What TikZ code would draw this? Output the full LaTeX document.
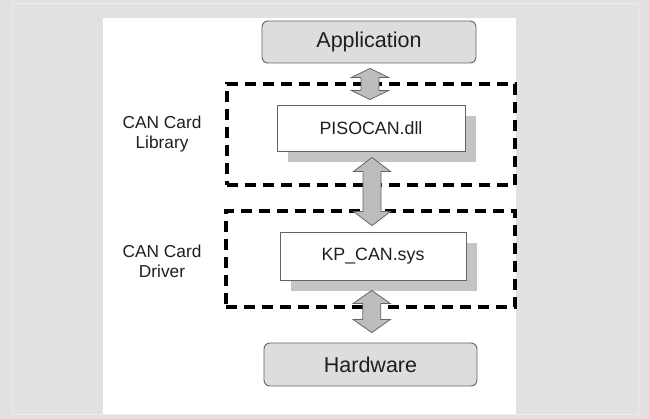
\documentclass[tikz,border=0pt]{standalone}
\usepackage{fontspec}
\setmainfont{Liberation Sans}
\usetikzlibrary{positioning}
\usetikzlibrary{calc}
\usetikzlibrary{shadows}
\definecolor{bggray}{RGB}{225,225,225}
\definecolor{rimgray}{RGB}{236,236,236}
\definecolor{boxgray}{RGB}{221,221,221}
\definecolor{shadowgray}{RGB}{196,196,196}
\definecolor{arrowgray}{RGB}{189,189,189}
\definecolor{edgegray}{RGB}{100,100,100}
\definecolor{textgray}{RGB}{30,30,30}
\newcommand{\fatarrow}[4]% top node, bottom node, gap, head length
{\draw[fatarr] let \p1=(#1.south), \p2=(#2.north), \n1={(\x1+\x2)/2} in
 (\n1,\y1-#3pt) -- (\n1+18.5pt,\y1-#3pt-#4pt) -- (\n1+9pt,\y1-#3pt-#4pt) --
 (\n1+9pt,\y2+#3pt+#4pt) -- (\n1+18.5pt,\y2+#3pt+#4pt) -- (\n1,\y2+#3pt) --
 (\n1-18.5pt,\y2+#3pt+#4pt) -- (\n1-9pt,\y2+#3pt+#4pt) --
 (\n1-9pt,\y1-#3pt-#4pt) -- (\n1-18.5pt,\y1-#3pt-#4pt) -- cycle;
}

\begin{document}
\begin{tikzpicture}[x=1pt,y=-1pt,text=textgray] % y runs downwards
\tikzstyle{layer}=[draw=edgegray,fill=boxgray,rounded corners=6pt,line width=.9pt,inner sep=0pt,font=\fontsize{21.5}{24}\selectfont]
\tikzstyle{module}=[draw=edgegray,fill=white,line width=.9pt,inner sep=0pt,font=\fontsize{17.8}{20}\selectfont,
  drop shadow={shadow xshift=11pt,shadow yshift=-11pt,fill=shadowgray,opacity=1}]
\tikzstyle{group}=[draw=black,line width=3.6pt,dash pattern=on 11pt off 7pt,inner sep=0pt]
\tikzstyle{fatarr}=[draw=edgegray,fill=arrowgray,line width=.8pt,line join=miter]
\tikzstyle{side}=[align=center,font=\fontsize{17.3}{20}\selectfont]

% background and white sheet
\useasboundingbox (0,0) rectangle (649,419);
\fill[bggray] (0,0) rectangle (649,419);
\draw[rimgray,line width=1pt] (12,3.5) rectangle (638,415);
\fill[white] (103,18) rectangle (516,414);

% dashed groups
\draw (371,134.5) node[group,minimum width=288pt,minimum height=101pt] (libgrp) {}; % library
\draw (370.5,259) node[group,minimum width=289pt,minimum height=96pt] (drvgrp) {}; % driver

% layers
\draw (369,42) node[layer,minimum width=214pt,minimum height=42pt] (app) {Application}; % app
\draw (371,128) node[module,minimum width=188pt,minimum height=46pt] (dll) {PISOCAN.dll}; % dll
\draw (373,256) node[module,minimum width=186pt,minimum height=48pt] (sys) {KP\_CAN.sys}; % sys
\draw (370.5,364.5) node[layer,minimum width=213pt,minimum height=43pt] (hw) {Hardware}; % hw

% side labels
\draw (162,134) node[side] (liblabel) {CAN Card\\Library};
\draw (162,261) node[side] (drvlabel) {CAN Card\\Driver};

% arrows between layers
\fatarrow{app}{dll}{5}{9}
\fatarrow{dll}{sys}{6}{14}
\fatarrow{sys}{hw}{10}{13}
\end{tikzpicture}
\end{document}
